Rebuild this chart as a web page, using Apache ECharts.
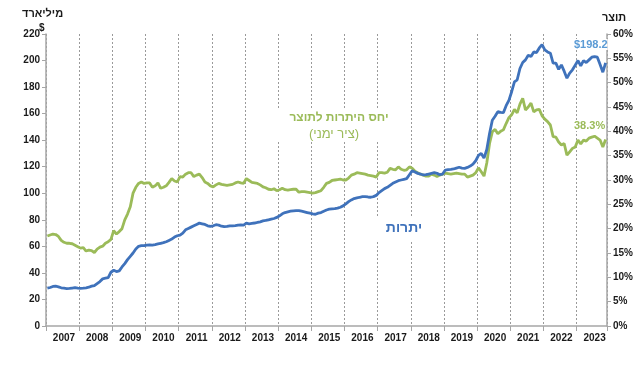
<!DOCTYPE html>
<html><head><meta charset="utf-8">
<script src="https://cdn.jsdelivr.net/npm/echarts@6/dist/echarts.min.js"></script>
<style>html,body{margin:0;padding:0;background:#fff}#c{width:640px;height:372px}</style>
</head><body><div id="c"></div>
<script>
// Years shown on the x axis (monthly data, Jan 2007 – Nov 2023)
const years = [2007,2008,2009,2010,2011,2012,2013,2014,2015,2016,2017,2018,2019,2020,2021,2022,2023];
const monthsInLastYear = 11;

// Foreign-exchange reserves, $ billion (left axis)
const reserves = [
  28.5,29.0,29.8,30.0,29.5,28.8,28.5,28.2,28.3,28.6,28.9,28.5,
  28.4,28.5,28.8,29.2,30.0,30.5,32.0,33.5,35.5,36.0,36.5,40.5,
  42.0,41.0,41.5,44.5,47.0,50.0,52.5,55.0,58.0,60.0,60.5,60.6,
  61.0,61.2,61.0,61.3,61.8,62.3,62.8,63.5,64.5,65.5,67.0,68.0,
  68.5,70.0,72.5,73.5,74.5,75.5,76.5,77.5,77.0,76.5,75.5,75.0,
  75.5,76.3,76.0,75.2,74.8,75.0,75.5,75.4,75.6,76.0,76.1,76.0,
  77.5,77.0,77.3,77.6,78.0,78.5,79.2,79.5,80.0,80.5,81.0,81.8,
  83.0,84.5,85.5,86.0,86.5,86.8,87.0,86.9,86.5,86.0,85.5,85.0,
  84.5,84.2,85.0,85.5,86.5,87.4,88.0,88.3,88.5,88.8,89.5,90.5,
  92.0,93.7,95.0,96.0,96.5,97.0,97.4,97.5,97.2,97.0,97.5,98.4,
  100.5,102.0,103.5,104.5,106.0,107.5,108.5,109.5,110.0,110.5,111.0,114.0,
  117.0,116.0,115.0,114.5,113.8,114.0,114.5,115.0,115.5,115.0,114.0,114.5,
  117.5,117.8,118.0,118.3,119.0,119.6,119.0,118.8,119.5,120.5,122.0,124.5,
  128.5,130.0,126.5,133.0,145.0,155.0,158.0,161.5,161.0,160.7,166.0,170.0,
  176.5,184.0,185.5,194.0,198.5,200.5,204.0,203.0,206.5,206.0,209.5,212.0,
  208.0,206.5,205.5,198.0,198.0,193.4,196.7,192.0,186.7,190.5,193.0,196.5,
  200.0,196.0,200.0,198.5,200.5,202.5,203.0,202.5,197.0,191.2,198.2
];

// Reserves-to-GDP ratio, % (right axis)
const ratio = [
  18.5,18.7,18.9,18.8,18.4,17.6,17.2,17.0,17.0,16.9,16.6,16.3,
  16.0,16.1,15.4,15.6,15.5,15.1,15.8,16.2,16.4,17.0,17.3,17.8,
  19.6,18.9,19.4,20.0,21.8,23.0,24.5,27.3,28.5,29.3,29.6,29.3,
  29.4,29.4,28.5,28.8,29.4,28.3,28.5,28.8,29.5,30.3,29.8,29.6,
  30.7,30.6,31.2,31.5,31.5,30.7,31.0,31.2,30.5,29.6,29.3,28.8,
  28.6,29.0,29.3,29.1,29.0,28.9,29.0,29.1,29.4,29.6,29.4,29.3,
  30.3,29.9,29.5,29.4,29.3,29.0,28.6,28.4,28.1,28.0,28.2,27.8,
  28.0,28.3,28.0,27.9,28.0,28.1,28.1,27.5,27.6,27.6,27.5,27.4,
  27.3,27.4,27.6,27.8,28.5,29.3,29.5,29.9,30.0,30.1,30.2,30.0,
  30.0,30.4,31.0,31.2,31.5,31.4,31.3,31.2,31.0,30.9,30.8,30.6,
  31.5,31.5,31.4,31.6,32.4,32.2,32.1,32.7,32.2,32.0,32.1,32.7,
  32.4,31.8,31.5,31.2,31.0,30.8,30.8,31.2,31.0,30.7,31.0,31.2,
  31.4,31.3,31.2,31.3,31.4,31.3,31.2,31.2,30.6,30.8,31.0,31.5,
  32.5,31.7,30.8,33.5,37.5,39.9,40.4,39.5,40.0,40.3,41.6,42.8,
  43.4,44.5,43.8,45.6,46.8,44.4,45.0,45.8,44.0,44.4,44.5,43.2,
  42.5,42.0,41.3,38.9,38.8,37.8,37.2,37.5,35.1,35.8,36.5,36.8,
  38.2,37.4,38.2,38.0,38.6,38.8,39.0,38.6,38.2,36.8,38.3
];

const leftTicks = [0, 220, 20];   // min, max, step ($ billion)
const rightTicks = [0, 60, 5];    // min, max, step (%)

const months = [];
years.forEach((y, yi) => {
  const n = yi === years.length - 1 ? monthsInLastYear : 12;
  for (let m = 1; m <= n; m++) months.push(y + '-' + (m < 10 ? '0' + m : m));
});

const FONT = '"Liberation Sans", Arial, "DejaVu Sans", sans-serif';
const BLUE = '#3F72BB';
const GREEN = '#9BBB59';
const AXIS = '#A6A6A6';

const chart = echarts.init(document.getElementById('c'), null, {renderer: 'canvas'});
chart.setOption({
  animation: false,
  backgroundColor: '#ffffff',
  grid: {left: 46, right: 33, top: 34, bottom: 46, containLabel: false},
  xAxis: {
    type: 'category',
    data: months,
    boundaryGap: true,
    axisLine: {lineStyle: {color: AXIS, width: 1.5}},
    axisTick: {show: true, length: 5, interval: (i) => i % 12 === 0, lineStyle: {color: AXIS}},
    splitLine: {show: true, interval: (i) => i % 12 === 0, lineStyle: {color: '#9a9a9a', type: [2, 2], width: 1}},
    axisLabel: {
      interval: (i) => i % 12 === 6,
      formatter: (v) => v.slice(0, 4),
      fontFamily: FONT, fontWeight: 'bold', fontSize: 10, color: '#1a1a1a', margin: 7
    }
  },
  yAxis: [{
    type: 'value', min: leftTicks[0], max: leftTicks[1], interval: leftTicks[2],
    axisLine: {show: true, lineStyle: {color: AXIS, width: 1.5}},
    axisTick: {show: true, length: 4, lineStyle: {color: AXIS}},
    splitLine: {show: false},
    axisLabel: {fontFamily: FONT, fontWeight: 'bold', fontSize: 10, color: '#1a1a1a', margin: 6}
  }, {
    type: 'value', min: rightTicks[0], max: rightTicks[1], interval: rightTicks[2],
    position: 'right',
    axisLine: {show: true, lineStyle: {color: AXIS, width: 1.5}},
    axisTick: {show: true, length: 4, lineStyle: {color: AXIS}},
    splitLine: {show: false},
    axisLabel: {formatter: '{value}%', fontFamily: FONT, fontWeight: 'bold', fontSize: 10, color: '#1a1a1a', margin: 6}
  }],
  series: [{
    name: 'יחס היתרות לתוצר',
    type: 'line', yAxisIndex: 1, data: ratio, symbol: 'none', smooth: false,
    lineStyle: {color: GREEN, width: 2.8}, itemStyle: {color: GREEN}, z: 3
  }, {
    name: 'יתרות',
    type: 'line', yAxisIndex: 0, data: reserves, symbol: 'none', smooth: false,
    lineStyle: {color: BLUE, width: 2.8}, itemStyle: {color: BLUE}, z: 4
  }],
  graphic: [
    {type: 'text', left: 22, top: 8, z: 100, style: {text: 'מיליארד', font: 'bold 11px ' + FONT, fill: '#1a1a1a'}},
    {type: 'text', left: 39, top: 23, z: 100, style: {text: '$', font: 'bold 10px ' + FONT, fill: '#1a1a1a'}},
    {type: 'text', left: 602, top: 12, z: 100, style: {text: 'תוצר', font: 'bold 11px ' + FONT, fill: '#1a1a1a'}},
    {type: 'text', left: 574, top: 39, z: 100, style: {text: '$198.2', font: 'bold 11px ' + FONT, fill: '#5B9BD5', backgroundColor: '#fff'}},
    {type: 'text', left: 574, top: 120, z: 100, style: {text: '38.3%', font: 'bold 11px ' + FONT, fill: GREEN, backgroundColor: '#fff'}},
    {type: 'rect', shape: {x: 272, y: 108, width: 112, height: 34}, style: {fill: '#fff'}, z: 99},
    {type: 'text', x: 339, y: 118, z: 100, style: {text: 'יחס היתרות לתוצר', font: 'bold 12px ' + FONT, fill: GREEN, align: 'center', verticalAlign: 'middle'}},
    {type: 'text', x: 334, y: 134, z: 100, style: {text: '(ציר ימני)', font: '13px ' + FONT, fill: GREEN, align: 'center', verticalAlign: 'middle'}},
    {type: 'rect', shape: {x: 375, y: 218, width: 56, height: 24}, style: {fill: '#fff'}, z: 99},
    {type: 'text', x: 404, y: 228, z: 100, style: {text: 'יתרות', font: 'bold 14px ' + FONT, fill: BLUE, align: 'center', verticalAlign: 'middle'}}
  ]
});
</script></body></html>
